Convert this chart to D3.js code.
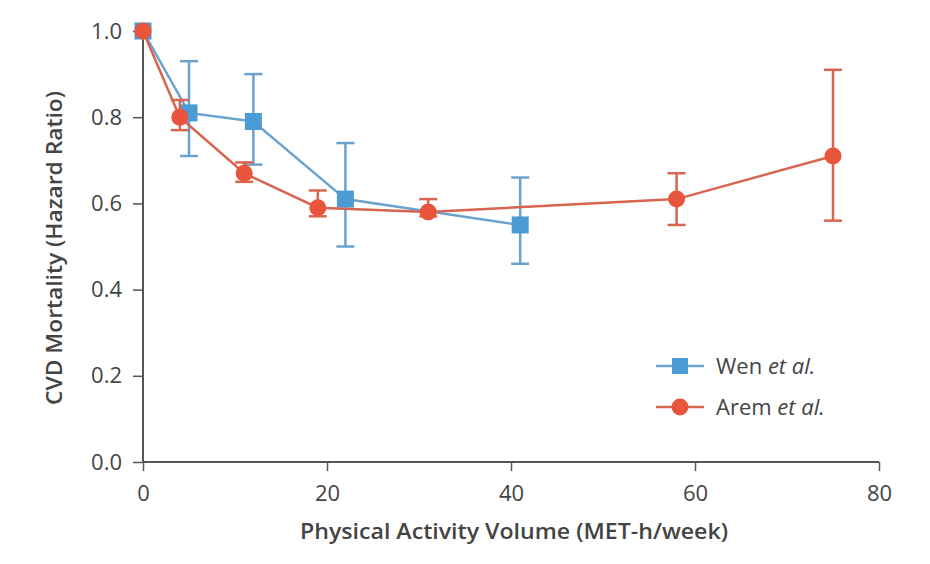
<!DOCTYPE html>
<html><head><meta charset="utf-8">
<script src="https://cdn.jsdelivr.net/npm/d3@7"></script>
<style>body{margin:0;background:#fff}</style>
</head><body>
<script>
const xTicks = [0, 20, 40, 60, 80];
const yTicks = [0, 0.2, 0.4, 0.6, 0.8, 1.0];
const wenX = [0, 5, 12, 22, 41];
const wenY = [1.0, 0.81, 0.79, 0.61, 0.55];
const wenLo = [null, 0.71, 0.69, 0.50, 0.46];
const wenHi = [null, 0.93, 0.90, 0.74, 0.66];
const aremX = [0, 4, 11, 19, 31, 58, 75];
const aremY = [1.0, 0.80, 0.67, 0.59, 0.58, 0.61, 0.71];
const aremLo = [null, 0.77, 0.65, 0.57, 0.57, 0.55, 0.56];
const aremHi = [null, 0.84, 0.695, 0.63, 0.61, 0.67, 0.91];

const W = 930, H = 564;
const svg = d3.select("body").append("svg").attr("width", W).attr("height", H);
const x = d3.scaleLinear().domain([0, 80]).range([143, 879]);
const y = d3.scaleLinear().domain([0, 1]).range([462, 31]);
const axisCol = "#555";
const textCol = "#444";
const blueLine = "#6aa3cf", blueMark = "#4b9bd5";
const redLine = "#d7654f", redMark = "#e8553c";

// axes
const xa = svg.append("g").attr("transform", "translate(0,462)")
  .call(d3.axisBottom(x).tickValues(xTicks).tickSize(9).tickPadding(10).tickFormat(d3.format("d")));
const ya = svg.append("g").attr("transform", "translate(143,0)")
  .call(d3.axisLeft(y).tickValues(yTicks).tickSize(10).tickPadding(11).tickFormat(d3.format(".1f")));
[xa, ya].forEach(g => {
  g.select(".domain").attr("stroke", axisCol).attr("stroke-width", 2);
  g.selectAll(".tick line").attr("stroke", axisCol).attr("stroke-width", 1.5);
  g.selectAll(".tick text").attr("fill", textCol).style("font-family", "Open Sans").style("font-size", "22px");
});
xa.select(".domain").attr("d", `M${x(0)},0H${x(80)}`);
ya.select(".domain").attr("d", `M0,${y(0)}V${y(1.0)}`);
xa.selectAll(".tick text").attr("dy", "0.9em");

// axis titles
svg.append("text").attr("x", 514).attr("y", 539).attr("text-anchor", "middle")
  .attr("fill", textCol).style("font-family", "Open Sans").style("font-weight", 600).style("font-size", "22px")
  .attr("textLength", 428).attr("lengthAdjust", "spacingAndGlyphs")
  .text("Physical Activity Volume (MET-h/week)");
svg.append("text").attr("transform", "translate(62,248) rotate(-90)").attr("text-anchor", "middle")
  .attr("fill", textCol).style("font-family", "Open Sans").style("font-weight", 600).style("font-size", "22px")
  .attr("textLength", 314).attr("lengthAdjust", "spacingAndGlyphs")
  .text("CVD Mortality (Hazard Ratio)");

function series(xs, ys, lo, hi, lineCol, markCol, shape) {
  const g = svg.append("g");
  const line = d3.line().x((d, i) => x(xs[i])).y(d => y(d));
  xs.forEach((xv, i) => {
    if (lo[i] == null) return;
    const eg = g.append("g").attr("stroke", lineCol).attr("stroke-width", 2.5);
    eg.append("line").attr("x1", x(xv)).attr("x2", x(xv)).attr("y1", y(lo[i])).attr("y2", y(hi[i]));
    [lo[i], hi[i]].forEach(v => eg.append("line").attr("x1", x(xv) - 9).attr("x2", x(xv) + 9).attr("y1", y(v)).attr("y2", y(v)));
  });
  g.append("path").attr("d", line(ys)).attr("fill", "none").attr("stroke", lineCol).attr("stroke-width", 2.5);
  xs.forEach((xv, i) => {
    if (shape === "square") g.append("rect").attr("x", x(xv) - 8.5).attr("y", y(ys[i]) - 8.5).attr("width", 17).attr("height", 17).attr("fill", markCol);
    else g.append("circle").attr("cx", x(xv)).attr("cy", y(ys[i])).attr("r", 8.5).attr("fill", markCol);
  });
}
series(wenX, wenY, wenLo, wenHi, blueLine, blueMark, "square");
series(aremX, aremY, aremLo, aremHi, redLine, redMark, "circle");

// legend
const legend = [
  {name: "Wen ", col: blueLine, mark: blueMark, shape: "square", yy: 366},
  {name: "Arem ", col: redLine, mark: redMark, shape: "circle", yy: 407}
];
legend.forEach(l => {
  svg.append("line").attr("x1", 656).attr("x2", 704).attr("y1", l.yy).attr("y2", l.yy).attr("stroke", l.col).attr("stroke-width", 2.5);
  if (l.shape === "square") svg.append("rect").attr("x", 672).attr("y", l.yy - 8).attr("width", 16).attr("height", 16).attr("fill", l.mark);
  else svg.append("circle").attr("cx", 680).attr("cy", l.yy).attr("r", 8.5).attr("fill", l.mark);
  const t = svg.append("text").attr("x", 716).attr("y", l.yy + 8).attr("fill", textCol)
    .style("font-family", "Open Sans").style("font-size", "22px");
  t.append("tspan").text(l.name);
  t.append("tspan").style("font-style", "italic").text("et al.");
});
</script>
</body></html>
